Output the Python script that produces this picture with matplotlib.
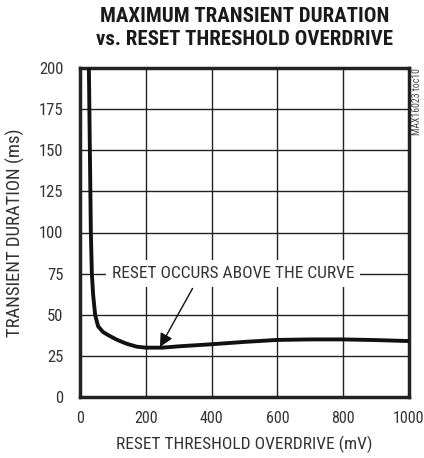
import numpy as np
import matplotlib
matplotlib.use('Agg')
import matplotlib.pyplot as plt

# Data
overdrive_mv = [27, 30, 33, 36, 40, 46, 55, 70, 85, 110, 140, 172, 200, 250, 300, 395, 500, 600, 700, 800, 900, 1000]
duration_ms  = [200, 150, 100, 75, 62, 50, 43, 39.5, 37.7, 35, 32.5, 30.6, 30, 30, 30.8, 32, 33.5, 34.7, 35, 35, 34.6, 34]

xticks = [0, 200, 400, 600, 800, 1000]
yticks = [0, 25, 50, 75, 100, 125, 150, 175, 200]

title  = 'MAXIMUM TRANSIENT DURATION\nvs. RESET THRESHOLD OVERDRIVE'
xlabel = 'RESET THRESHOLD OVERDRIVE (mV)'
ylabel = 'TRANSIENT DURATION (ms)'
note   = 'RESET OCCURS ABOVE THE CURVE'
tag    = 'MAX16023 toc10'

plt.rcParams['font.family'] = ['Roboto Condensed', 'DejaVu Sans']

fig = plt.figure(figsize=(4.24, 4.58), dpi=100)
ax = fig.add_axes([80/424, 1-397/458, 329/424, 329/458])

ax.plot(overdrive_mv, duration_ms, c='#111111', lw=2.8, solid_capstyle='butt', zorder=3)
ax.set_xlim(0, 1000)
ax.set_ylim(0, 200)
ax.set_xticks(xticks)
ax.set_yticks(yticks)
ax.grid(True, c='#222222', lw=1.0)
ax.tick_params(length=0, labelsize=12, colors='#333333')
ax.tick_params(axis='x', pad=10, labelsize=11.5)
ax.tick_params(axis='y', pad=12)
for s in ax.spines.values():
    s.set_linewidth(2.5)
    s.set_color('#222222')

ax.set_xlabel(xlabel, fontsize=12.5, color='#333333', labelpad=7)
ax.set_ylabel(ylabel, fontsize=13.5, color='#333333', labelpad=10)

# annotation with white box over the grid
ax.annotate(note, xy=(243, 30.4), xytext=(465, 75), fontsize=12.5, color='#333333',
            ha='center', va='center',
            bbox=dict(boxstyle='square,pad=0.35', fc='white', ec='none'),
            arrowprops=dict(arrowstyle='-|>', color='#111111', lw=1.0,
                            mutation_scale=20, shrinkA=1, shrinkB=0,
                            relpos=(0.35, 0.0)),
            zorder=4)

fig.text(0.5765, 0.985, title, ha='center', va='top', fontsize=15,
         fontweight='bold', linespacing=1.3, color='#1a1a1a')
fig.text(417/424, 1-68/458, tag, rotation=90, ha='center', va='top',
         fontsize=7, color='#444444')

fig.savefig('out.png', dpi=100)
